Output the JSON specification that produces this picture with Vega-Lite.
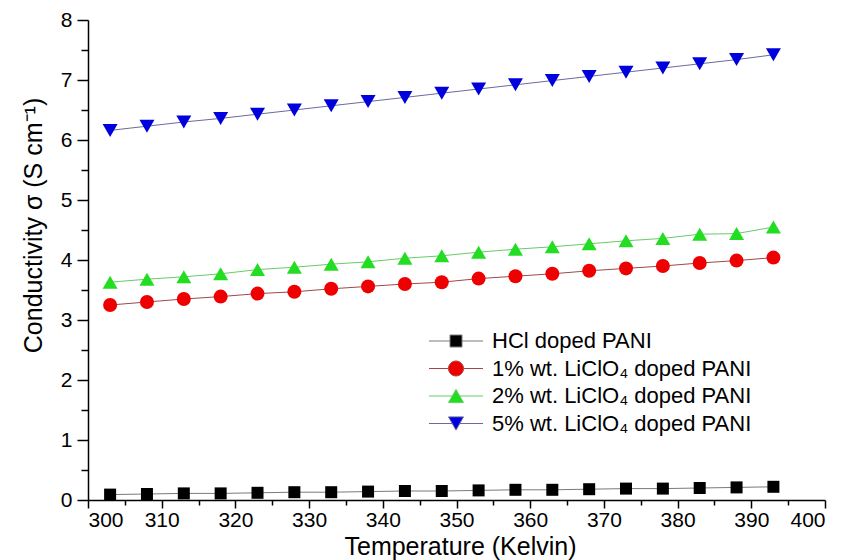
{
  "$schema": "https://vega.github.io/schema/vega-lite/v6.json",
  "autosize": {"type": "none"},
  "width": 737,
  "height": 480,
  "padding": {"left": 88, "top": 20, "right": 25, "bottom": 60},
  "background": "white",
  "config": {
    "view": {"stroke": null},
    "font": "Liberation Sans",
    "axis": {
      "grid": false,
      "domainColor": "black",
      "domainWidth": 1.5,
      "tickColor": "black",
      "tickWidth": 1.5,
      "labelColor": "black",
      "labelFont": "Liberation Sans",
      "labelFontSize": 21,
      "titleFont": "Liberation Sans",
      "titleFontSize": 25,
      "titleFontWeight": "normal",
      "titleColor": "black",
      "labelOverlap": false
    },
    "legend": {
      "labelFont": "Liberation Sans",
      "labelFontSize": 22,
      "labelColor": "black",
      "labelLimit": 0
    }
  },
  "data": {
    "values": [
      {"T": 303, "sigma": 0.09, "series": "HCl doped PANI"},
      {"T": 308, "sigma": 0.10, "series": "HCl doped PANI"},
      {"T": 313, "sigma": 0.11, "series": "HCl doped PANI"},
      {"T": 318, "sigma": 0.11, "series": "HCl doped PANI"},
      {"T": 323, "sigma": 0.12, "series": "HCl doped PANI"},
      {"T": 328, "sigma": 0.13, "series": "HCl doped PANI"},
      {"T": 333, "sigma": 0.13, "series": "HCl doped PANI"},
      {"T": 338, "sigma": 0.14, "series": "HCl doped PANI"},
      {"T": 343, "sigma": 0.15, "series": "HCl doped PANI"},
      {"T": 348, "sigma": 0.15, "series": "HCl doped PANI"},
      {"T": 353, "sigma": 0.16, "series": "HCl doped PANI"},
      {"T": 358, "sigma": 0.17, "series": "HCl doped PANI"},
      {"T": 363, "sigma": 0.17, "series": "HCl doped PANI"},
      {"T": 368, "sigma": 0.18, "series": "HCl doped PANI"},
      {"T": 373, "sigma": 0.19, "series": "HCl doped PANI"},
      {"T": 378, "sigma": 0.19, "series": "HCl doped PANI"},
      {"T": 383, "sigma": 0.20, "series": "HCl doped PANI"},
      {"T": 388, "sigma": 0.21, "series": "HCl doped PANI"},
      {"T": 393, "sigma": 0.22, "series": "HCl doped PANI"},
      {"T": 303, "sigma": 3.25, "series": "1% wt. LiClO₄ doped PANI"},
      {"T": 308, "sigma": 3.30, "series": "1% wt. LiClO₄ doped PANI"},
      {"T": 313, "sigma": 3.35, "series": "1% wt. LiClO₄ doped PANI"},
      {"T": 318, "sigma": 3.39, "series": "1% wt. LiClO₄ doped PANI"},
      {"T": 323, "sigma": 3.44, "series": "1% wt. LiClO₄ doped PANI"},
      {"T": 328, "sigma": 3.47, "series": "1% wt. LiClO₄ doped PANI"},
      {"T": 333, "sigma": 3.52, "series": "1% wt. LiClO₄ doped PANI"},
      {"T": 338, "sigma": 3.56, "series": "1% wt. LiClO₄ doped PANI"},
      {"T": 343, "sigma": 3.60, "series": "1% wt. LiClO₄ doped PANI"},
      {"T": 348, "sigma": 3.63, "series": "1% wt. LiClO₄ doped PANI"},
      {"T": 353, "sigma": 3.69, "series": "1% wt. LiClO₄ doped PANI"},
      {"T": 358, "sigma": 3.73, "series": "1% wt. LiClO₄ doped PANI"},
      {"T": 363, "sigma": 3.77, "series": "1% wt. LiClO₄ doped PANI"},
      {"T": 368, "sigma": 3.82, "series": "1% wt. LiClO₄ doped PANI"},
      {"T": 373, "sigma": 3.86, "series": "1% wt. LiClO₄ doped PANI"},
      {"T": 378, "sigma": 3.90, "series": "1% wt. LiClO₄ doped PANI"},
      {"T": 383, "sigma": 3.95, "series": "1% wt. LiClO₄ doped PANI"},
      {"T": 388, "sigma": 3.99, "series": "1% wt. LiClO₄ doped PANI"},
      {"T": 393, "sigma": 4.04, "series": "1% wt. LiClO₄ doped PANI"},
      {"T": 303, "sigma": 3.63, "series": "2% wt. LiClO₄ doped PANI"},
      {"T": 308, "sigma": 3.68, "series": "2% wt. LiClO₄ doped PANI"},
      {"T": 313, "sigma": 3.72, "series": "2% wt. LiClO₄ doped PANI"},
      {"T": 318, "sigma": 3.77, "series": "2% wt. LiClO₄ doped PANI"},
      {"T": 323, "sigma": 3.84, "series": "2% wt. LiClO₄ doped PANI"},
      {"T": 328, "sigma": 3.88, "series": "2% wt. LiClO₄ doped PANI"},
      {"T": 333, "sigma": 3.93, "series": "2% wt. LiClO₄ doped PANI"},
      {"T": 338, "sigma": 3.97, "series": "2% wt. LiClO₄ doped PANI"},
      {"T": 343, "sigma": 4.03, "series": "2% wt. LiClO₄ doped PANI"},
      {"T": 348, "sigma": 4.07, "series": "2% wt. LiClO₄ doped PANI"},
      {"T": 353, "sigma": 4.13, "series": "2% wt. LiClO₄ doped PANI"},
      {"T": 358, "sigma": 4.18, "series": "2% wt. LiClO₄ doped PANI"},
      {"T": 363, "sigma": 4.22, "series": "2% wt. LiClO₄ doped PANI"},
      {"T": 368, "sigma": 4.27, "series": "2% wt. LiClO₄ doped PANI"},
      {"T": 373, "sigma": 4.32, "series": "2% wt. LiClO₄ doped PANI"},
      {"T": 378, "sigma": 4.36, "series": "2% wt. LiClO₄ doped PANI"},
      {"T": 383, "sigma": 4.43, "series": "2% wt. LiClO₄ doped PANI"},
      {"T": 388, "sigma": 4.44, "series": "2% wt. LiClO₄ doped PANI"},
      {"T": 393, "sigma": 4.55, "series": "2% wt. LiClO₄ doped PANI"},
      {"T": 303, "sigma": 6.16, "series": "5% wt. LiClO₄ doped PANI"},
      {"T": 308, "sigma": 6.23, "series": "5% wt. LiClO₄ doped PANI"},
      {"T": 313, "sigma": 6.30, "series": "5% wt. LiClO₄ doped PANI"},
      {"T": 318, "sigma": 6.36, "series": "5% wt. LiClO₄ doped PANI"},
      {"T": 323, "sigma": 6.43, "series": "5% wt. LiClO₄ doped PANI"},
      {"T": 328, "sigma": 6.50, "series": "5% wt. LiClO₄ doped PANI"},
      {"T": 333, "sigma": 6.57, "series": "5% wt. LiClO₄ doped PANI"},
      {"T": 338, "sigma": 6.64, "series": "5% wt. LiClO₄ doped PANI"},
      {"T": 343, "sigma": 6.71, "series": "5% wt. LiClO₄ doped PANI"},
      {"T": 348, "sigma": 6.78, "series": "5% wt. LiClO₄ doped PANI"},
      {"T": 353, "sigma": 6.85, "series": "5% wt. LiClO₄ doped PANI"},
      {"T": 358, "sigma": 6.92, "series": "5% wt. LiClO₄ doped PANI"},
      {"T": 363, "sigma": 6.99, "series": "5% wt. LiClO₄ doped PANI"},
      {"T": 368, "sigma": 7.06, "series": "5% wt. LiClO₄ doped PANI"},
      {"T": 373, "sigma": 7.13, "series": "5% wt. LiClO₄ doped PANI"},
      {"T": 378, "sigma": 7.20, "series": "5% wt. LiClO₄ doped PANI"},
      {"T": 383, "sigma": 7.27, "series": "5% wt. LiClO₄ doped PANI"},
      {"T": 388, "sigma": 7.34, "series": "5% wt. LiClO₄ doped PANI"},
      {"T": 393, "sigma": 7.42, "series": "5% wt. LiClO₄ doped PANI"}
    ]
  },
  "encoding": {
    "x": {
      "field": "T",
      "type": "quantitative",
      "scale": {"domain": [300, 400], "nice": false},
      "axis": {
        "title": "Temperature (Kelvin)",
        "values": [300, 305, 310, 315, 320, 325, 330, 335, 340, 345, 350, 355, 360, 365, 370, 375, 380, 385, 390, 395, 400],
        "labelExpr": "datum.value % 10 === 0 ? datum.label : ''",
        "tickSize": {"condition": {"test": "datum.value % 10 === 0", "value": 8}, "value": 5},
        "labelPadding": 1,
        "titleFontSize": 25,
        "titleBaseline": "alphabetic",
        "titleX": 372,
        "titleY": 54.5
      }
    },
    "y": {
      "field": "sigma",
      "type": "quantitative",
      "scale": {"domain": [0, 8], "nice": false},
      "axis": {
        "title": "Conductivity σ (S cm⁻¹)",
        "values": [0, 0.5, 1, 1.5, 2, 2.5, 3, 3.5, 4, 4.5, 5, 5.5, 6, 6.5, 7, 7.5, 8],
        "labelExpr": "datum.value % 1 === 0 ? format(datum.value, 'd') : ''",
        "tickSize": {"condition": {"test": "datum.value % 1 === 0", "value": 11}, "value": 7},
        "labelPadding": 5,
        "titleAngle": 270,
        "titleBaseline": "alphabetic",
        "titleAlign": "center",
        "titleX": -47,
        "titleY": 205
      }
    }
  },
  "layer": [
    {
      "mark": {"type": "line", "strokeWidth": 1},
      "encoding": {
        "stroke": {
          "field": "series",
          "type": "nominal",
          "scale": {
            "domain": ["HCl doped PANI", "1% wt. LiClO₄ doped PANI", "2% wt. LiClO₄ doped PANI", "5% wt. LiClO₄ doped PANI"],
            "range": ["#7a7a7a", "#a04848", "#66cc66", "#6a6aa0"]
          }
        }
      }
    },
    {
      "transform": [{"filter": {"field": "series", "equal": "HCl doped PANI"}}],
      "mark": {"type": "point", "shape": "square", "size": 144, "filled": true, "opacity": 1, "strokeWidth": 0},
      "encoding": {
        "fill": {"field": "series", "type": "nominal"}
      }
    },
    {
      "transform": [{"filter": {"field": "series", "equal": "1% wt. LiClO₄ doped PANI"}}],
      "mark": {"type": "point", "shape": "circle", "size": 196, "filled": true, "opacity": 1, "strokeWidth": 0},
      "encoding": {
        "fill": {"field": "series", "type": "nominal"}
      }
    },
    {
      "transform": [{"filter": {"field": "series", "equal": "2% wt. LiClO₄ doped PANI"}}],
      "mark": {"type": "point", "shape": "triangle-up", "size": 225, "filled": true, "opacity": 1, "strokeWidth": 0},
      "encoding": {
        "fill": {"field": "series", "type": "nominal"}
      }
    },
    {
      "transform": [{"filter": {"field": "series", "equal": "5% wt. LiClO₄ doped PANI"}}],
      "mark": {"type": "point", "shape": "triangle-down", "size": 225, "filled": true, "opacity": 1, "strokeWidth": 0},
      "encoding": {
        "fill": {"field": "series", "type": "nominal"}
      }
    },
    {
      "mark": {"type": "point", "filled": true, "opacity": 0, "strokeWidth": 1},
      "encoding": {
        "fill": {
          "field": "series",
          "type": "nominal",
          "scale": {
            "domain": ["HCl doped PANI", "1% wt. LiClO₄ doped PANI", "2% wt. LiClO₄ doped PANI", "5% wt. LiClO₄ doped PANI"],
            "range": ["#000000", "#ee0000", "#22dd22", "#0000dd"]
          },
          "legend": {
            "title": null,
            "orient": "none",
            "legendX": 341,
            "legendY": 310,
            "symbolSize": 36,
            "symbolOffset": 16,
            "symbolOpacity": 1,
            "symbolStrokeWidth": 1,
            "labelOffset": 25,
            "rowPadding": 5.5
          }
        },
        "stroke": {
          "field": "series",
          "type": "nominal",
          "legend": {
            "title": null,
            "orient": "none",
            "legendX": 341,
            "legendY": 310,
            "symbolSize": 36,
            "symbolOffset": 16,
            "symbolOpacity": 1,
            "symbolStrokeWidth": 1,
            "labelOffset": 25,
            "rowPadding": 5.5
          }
        },
        "shape": {
          "field": "series",
          "type": "nominal",
          "scale": {
            "domain": ["HCl doped PANI", "1% wt. LiClO₄ doped PANI", "2% wt. LiClO₄ doped PANI", "5% wt. LiClO₄ doped PANI"],
            "range": [
              "M-9,0H-2M2,0H9M-2,-2H2V2H-2Z",
              "M-9,0H-2.5M2.5,0H9M-2.5,0A2.5,2.5 0 1,1 2.5,0A2.5,2.5 0 1,1 -2.5,0Z",
              "M-9,0H-1.25M1.25,0H9M0,-2.2L2.5,2.2L-2.5,2.2Z",
              "M-9,0H-1.25M1.25,0H9M0,2.2L2.5,-2.2L-2.5,-2.2Z"
            ]
          },
          "legend": {
            "title": null,
            "orient": "none",
            "legendX": 341,
            "legendY": 310,
            "symbolSize": 36,
            "symbolOffset": 16,
            "symbolOpacity": 1,
            "symbolStrokeWidth": 1,
            "labelOffset": 25,
            "rowPadding": 5.5
          }
        }
      }
    }
  ]
}
